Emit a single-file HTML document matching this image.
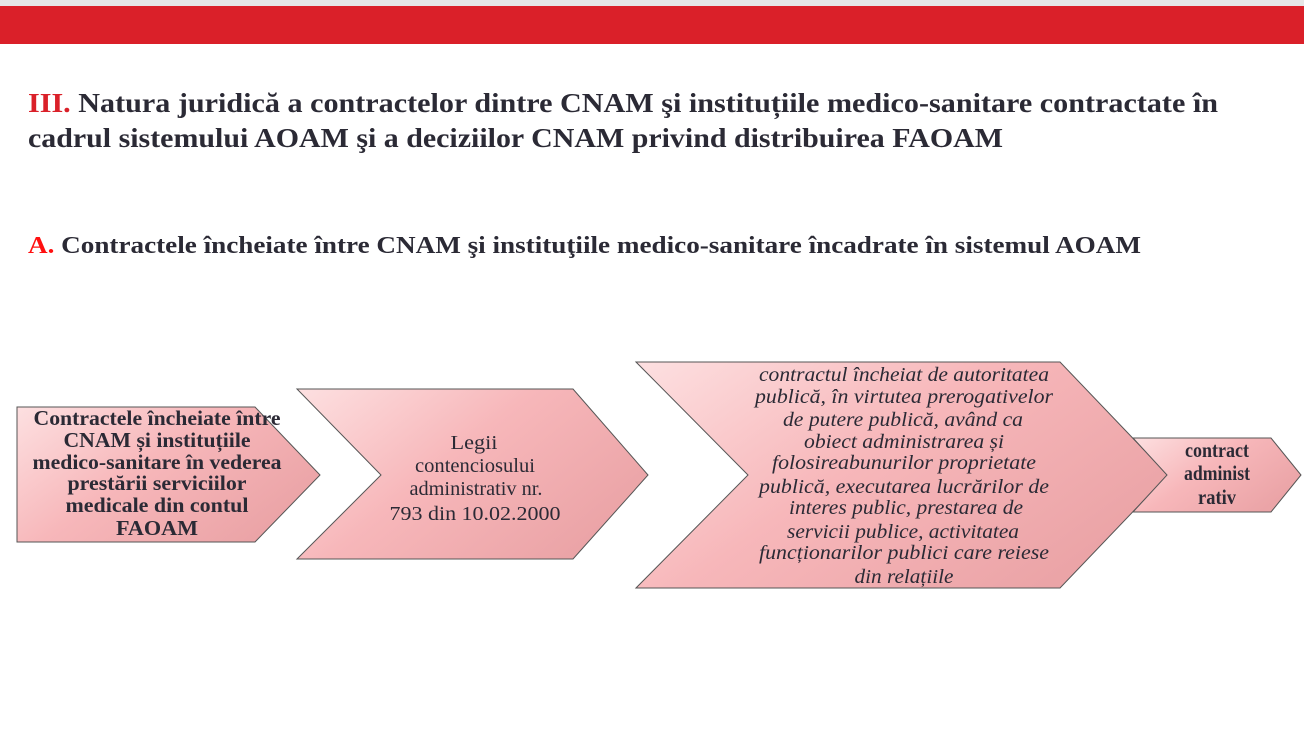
<!DOCTYPE html>
<html><head><meta charset="utf-8"><style>
html,body{margin:0;padding:0;background:#fff;}
svg{display:block;}
text{font-family:"Liberation Serif",serif;fill:#2b2a35;}
</style></head><body>
<svg width="1304" height="734" viewBox="0 0 1304 734" xmlns="http://www.w3.org/2000/svg">
<defs>
<linearGradient id="g" x1="0" y1="0" x2="1" y2="0.6">
<stop offset="0" stop-color="#fde0e1"/>
<stop offset="0.5" stop-color="#f7b7ba"/>
<stop offset="1" stop-color="#eba4a7"/>
</linearGradient>
</defs>
<rect x="0" y="0" width="1304" height="6" fill="#e6e6e6"/>
<rect x="0" y="6" width="1304" height="38" fill="#da2029"/>

<text x="28" y="112" font-size="27" font-weight="bold" textLength="1190" lengthAdjust="spacingAndGlyphs"><tspan fill="#da2029">III.</tspan> Natura juridică a contractelor dintre CNAM şi  instituțiile medico-sanitare contractate în</text>
<text x="28" y="147" font-size="27" font-weight="bold" textLength="975" lengthAdjust="spacingAndGlyphs">cadrul sistemului AOAM şi a deciziilor CNAM privind distribuirea FAOAM</text>
<text x="28" y="253" font-size="24" font-weight="bold" textLength="1113" lengthAdjust="spacingAndGlyphs"><tspan fill="#ff1010">A.</tspan> Contractele încheiate între CNAM şi instituţiile medico-sanitare încadrate în sistemul AOAM</text>

<g stroke="#555" stroke-width="1">
<polygon points="17,407 255,407 320,475 255,542 17,542" fill="url(#g)"/>
<polygon points="297,389 573,389 648,475 573,559 297,559 381,475" fill="url(#g)"/>
<polygon points="636,362 1060,362 1168,475 1060,588 636,588 748,475" fill="url(#g)"/>
<polygon points="1133,438 1271,438 1301,475 1271,512 1133,512 1167,475" fill="url(#g)"/>
</g>

<g font-size="21" font-weight="bold" text-anchor="middle">
<text x="157" y="425" textLength="247" lengthAdjust="spacingAndGlyphs">Contractele încheiate între</text>
<text x="157" y="447" textLength="187" lengthAdjust="spacingAndGlyphs">CNAM și instituțiile</text>
<text x="157" y="469" textLength="249" lengthAdjust="spacingAndGlyphs">medico-sanitare în vederea</text>
<text x="157" y="490" textLength="179" lengthAdjust="spacingAndGlyphs">prestării serviciilor</text>
<text x="157" y="512" textLength="183" lengthAdjust="spacingAndGlyphs">medicale din contul</text>
<text x="157" y="535" textLength="82" lengthAdjust="spacingAndGlyphs">FAOAM</text>
</g>

<g font-size="20" text-anchor="middle">
<text x="474" y="449" textLength="47" lengthAdjust="spacingAndGlyphs">Legii</text>
<text x="475" y="472" textLength="120" lengthAdjust="spacingAndGlyphs">contenciosului</text>
<text x="476" y="495" textLength="133" lengthAdjust="spacingAndGlyphs">administrativ nr.</text>
<text x="475" y="520" textLength="171" lengthAdjust="spacingAndGlyphs">793 din 10.02.2000</text>
</g>

<g font-size="20" font-style="italic" text-anchor="middle">
<text x="904" y="381" textLength="290" lengthAdjust="spacingAndGlyphs">contractul încheiat de autoritatea</text>
<text x="904" y="403" textLength="298" lengthAdjust="spacingAndGlyphs">publică, în virtutea prerogativelor</text>
<text x="903" y="426" textLength="240" lengthAdjust="spacingAndGlyphs">de putere publică, având ca</text>
<text x="904" y="448" textLength="200" lengthAdjust="spacingAndGlyphs">obiect administrarea și</text>
<text x="904" y="469" textLength="264" lengthAdjust="spacingAndGlyphs">folosireabunurilor proprietate</text>
<text x="904" y="493" textLength="290" lengthAdjust="spacingAndGlyphs">publică, executarea lucrărilor de</text>
<text x="906" y="514" textLength="234" lengthAdjust="spacingAndGlyphs">interes public, prestarea de</text>
<text x="903" y="538" textLength="232" lengthAdjust="spacingAndGlyphs">servicii publice, activitatea</text>
<text x="904" y="559" textLength="290" lengthAdjust="spacingAndGlyphs">funcționarilor publici care reiese</text>
<text x="904" y="583" textLength="99" lengthAdjust="spacingAndGlyphs">din relațiile</text>
</g>

<g font-size="21" font-weight="bold" text-anchor="middle">
<text x="1217" y="457" textLength="64" lengthAdjust="spacingAndGlyphs">contract</text>
<text x="1217" y="480" textLength="66" lengthAdjust="spacingAndGlyphs">administ</text>
<text x="1217" y="504" textLength="38" lengthAdjust="spacingAndGlyphs">rativ</text>
</g>
</svg>
</body></html>
